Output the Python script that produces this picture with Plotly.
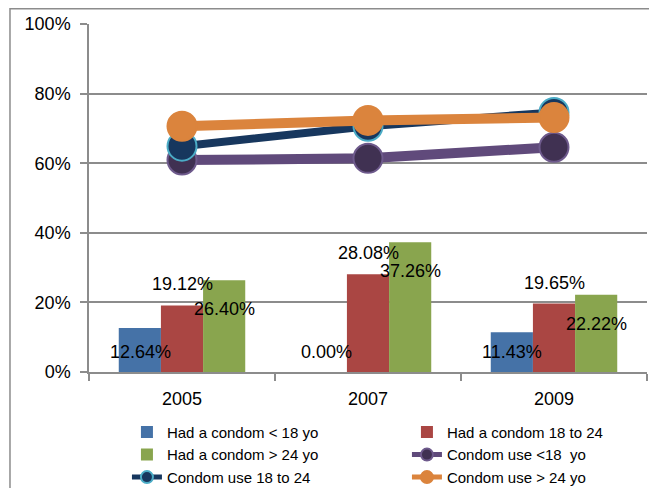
import plotly.graph_objects as go

years = ["2005", "2007", "2009"]
had_lt18 = [12.64, 0.00, 11.43]
had_18_24 = [19.12, 28.08, 19.65]
had_gt24 = [26.40, 37.26, 22.22]
use_lt18 = [60.9, 61.4, 64.6]
use_18_24 = [64.9, 70.6, 74.6]
use_gt24 = [70.6, 72.3, 73.1]
y_ticks = [0, 20, 40, 60, 80, 100]

FONT = "Liberation Sans, Arial, sans-serif"
GRID = "#8C8C8C"

fig = go.Figure()
bar_specs = [
    ("Had a condom < 18 yo", had_lt18, "#4572A7"),
    ("Had a condom 18 to 24", had_18_24, "#AA4643"),
    ("Had a condom > 24 yo", had_gt24, "#89A54E"),
]
for name, vals, col in bar_specs:
    fig.add_trace(go.Bar(x=years, y=vals, name=name, marker=dict(color=col, line=dict(width=0))))

line_specs = [
    ("Condom use <18  yo", use_lt18, "#604A7B", "#403152", "#6E5A8C", 10),
    ("Condom use 18 to 24", use_18_24, "#17375E", "#17375E", "#4BACC6", 8),
    ("Condom use > 24 yo", use_gt24, "#DB843D", "#DB843D", "#DB843D", 10),
]
for name, vals, lc, fc, oc, w in line_specs:
    fig.add_trace(go.Scatter(
        x=years, y=vals, name=name, mode="lines+markers",
        line=dict(color=lc, width=w),
        marker=dict(size=29, color=fc, line=dict(color=oc, width=2)),
    ))

LBL = dict(size=18, color="black", family=FONT)
annotations = []
for j, yr in enumerate(years):
    annotations.append(dict(x=j, y=0, text=f"{had_lt18[j]:.2f}%", xshift=-42, yshift=20,
                            showarrow=False, font=LBL))
    annotations.append(dict(x=j, y=had_18_24[j], text=f"{had_18_24[j]:.2f}%", xshift=0, yshift=21,
                            showarrow=False, font=LBL))
    annotations.append(dict(x=j, y=had_gt24[j], text=f"{had_gt24[j]:.2f}%", xshift=42, yshift=-29,
                            showarrow=False, font=LBL))

fig.update_layout(
    width=657, height=488,
    margin=dict(l=81, r=18, t=16, b=124, autoexpand=False),
    paper_bgcolor="white", plot_bgcolor="white",
    barmode="group", bargap=0.32, bargroupgap=0,
    font=dict(family=FONT, size=18, color="black"),
    annotations=annotations,
    showlegend=True,
    legend=dict(orientation="h", x=0.068, y=-0.126, xanchor="left", yanchor="top",
                entrywidth=235, entrywidthmode="pixels", traceorder="normal",
                itemsizing="constant",
                font=dict(size=15, family=FONT), bgcolor="rgba(0,0,0,0)"),
    shapes=[dict(type="rect", xref="paper", yref="paper", x0=-0.1416, x1=1.05, y0=-0.5, y1=1.044,
                 line=dict(color=GRID, width=1.5), fillcolor="rgba(0,0,0,0)", layer="below")],
)
fig.update_yaxes(range=[0, 100], tickvals=y_ticks, ticktext=[f"{v}%" for v in y_ticks],
                 showgrid=True, gridcolor=GRID, gridwidth=1.5, showline=True, linecolor=GRID,
                 linewidth=1.5, ticks="outside", ticklen=7, tickcolor=GRID, tickwidth=1.5,
                 ticklabelstandoff=6,
                 zeroline=False, automargin=False, tickfont=dict(size=18))
fig.update_xaxes(type="category", range=[-0.5, len(years) - 0.5], showline=True, linecolor=GRID,
                 linewidth=1.5, ticks="outside", tickson="boundaries", ticklen=7, tickcolor=GRID,
                 tickwidth=1.5, showgrid=False, automargin=False, ticklabelstandoff=10,
                 tickfont=dict(size=18))

fig.write_html("out.html")
